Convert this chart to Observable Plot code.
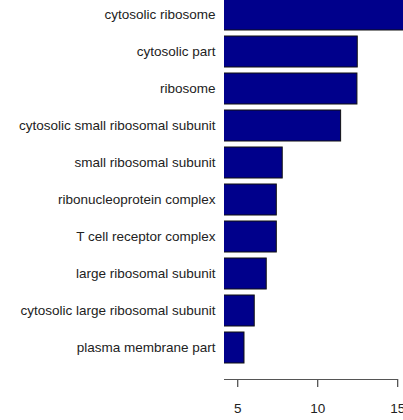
<!DOCTYPE html>
<html>
<head>
<meta charset="utf-8">
<script src="https://cdn.jsdelivr.net/npm/d3@7"></script>
<script src="https://cdn.jsdelivr.net/npm/@observablehq/plot@0.6"></script>
<style>
  html, body { margin: 0; padding: 0; background: #fff; }
  #chart svg { display: block; }
</style>
</head>
<body>
<div id="chart"></div>
<script>
const terms = [
  "cytosolic ribosome",
  "cytosolic part",
  "ribosome",
  "cytosolic small ribosomal subunit",
  "small ribosomal subunit",
  "ribonucleoprotein complex",
  "T cell receptor complex",
  "large ribosomal subunit",
  "cytosolic large ribosomal subunit",
  "plasma membrane part"
];
const values = [16.2, 12.5, 12.48, 11.46, 7.81, 7.44, 7.44, 6.81, 6.06, 5.42];
const tickValues = [5, 10, 15];
const xDomain = [4.17, 15.36];

const data = terms.map((t, i) => ({term: t, value: values[i]}));

const chart = Plot.plot({
  width: 403,
  height: 420,
  marginLeft: 224,
  marginRight: 0,
  marginTop: 0,
  marginBottom: 41,
  style: {
    fontFamily: "'Liberation Sans', Arial, sans-serif",
    fontSize: "13.5px",
    color: "#222",
    background: "#fff",
    overflow: "hidden"
  },
  x: {
    domain: xDomain,
    ticks: tickValues,
    tickFormat: d => String(d),
    tickSize: 8,
    tickPadding: 16,
    label: null
  },
  y: {
    domain: terms,
    range: [-6.1, 368.2],
    paddingInner: 0.17,
    paddingOuter: 0.085,
    tickSize: 0,
    tickPadding: 9,
    label: null
  },
  marks: [
    Plot.barX(data, {
      x: "value",
      y: "term",
      fill: "#00008B",
      stroke: "#111",
      strokeWidth: 1,
      clip: true
    })
  ]
});

document.getElementById("chart").appendChild(chart);

// axis baseline, from the left edge of the plot region to the last tick
const sx = chart.scale("x");
const svg = d3.select(chart.tagName.toLowerCase() === "svg" ? chart : chart.querySelector("svg"));
svg.append("line")
  .attr("x1", sx.apply(xDomain[0]))
  .attr("x2", sx.apply(d3.max(tickValues)))
  .attr("y1", 420 - 41 + 0.5)
  .attr("y2", 420 - 41 + 0.5)
  .attr("stroke", "#555")
  .attr("stroke-width", 1);
</script>
</body>
</html>
